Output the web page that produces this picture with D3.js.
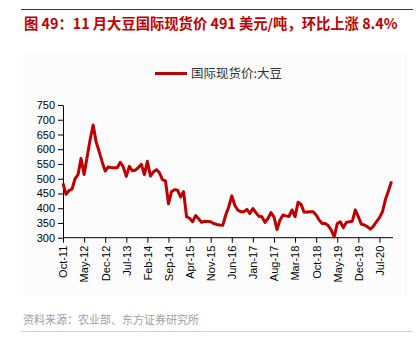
<!DOCTYPE html>
<html><head><meta charset="utf-8">
<script src="https://cdn.jsdelivr.net/npm/d3@7"></script>
<style>
html,body{margin:0;padding:0;background:#fff;}
svg{display:block;}
</style></head>
<body>
<svg id="c" width="418" height="350"></svg>
<script>
const titleText = "图 49：11 月大豆国际现货价 491 美元/吨，环比上涨 8.4%";
const seriesName = "国际现货价:大豆";
const sourceText = "资料来源：农业部、东方证券研究所";
const startMonth = new Date(2011, 9, 1);
const endMonth = new Date(2020, 10, 1);
const values = [484,447,460,465,500,514,569,514,574,632,
682,625,592,557,526,540,538,537,537,556,
540,508,542,527,529,538,549,514,559,509,
523,531,520,497,493,415,456,463,461,438,
456,371,366,354,375,364,352,356,355,354,
348,345,343,342,377,405,442,410,394,388,
388,396,382,399,385,373,371,352,365,385,
371,328,360,377,374,372,394,371,420,413,
386,387,388,388,377,360,348,348,341,326,
303,348,354,334,352,354,356,394,371,346,
343,337,329,339,354,368,388,430,459,491];
const tickLabels = ["Oct-11","May-12","Dec-12","Jul-13","Feb-14","Sep-14","Apr-15","Nov-15","Jun-16","Jan-17","Aug-17","Mar-18","Oct-18","May-19","Dec-19","Jul-20"];
const yTicks = [300,350,400,450,500,550,600,650,700,750];

const fmt = d3.timeFormat("%b-%y");
const months = d3.timeMonth.range(startMonth, d3.timeMonth.offset(endMonth,1)).map(fmt);
const data = months.map((m,i)=>({m, v: values[i]}));

const svg = d3.select("#c");
const red = "#c00000";

// top rule
svg.append("line").attr("x1",21).attr("x2",413).attr("y1",9.5).attr("y2",9.5)
  .attr("stroke",red).attr("stroke-width",1);
// title
svg.append("text").attr("x",24).attr("y",28.5).text(titleText)
  .attr("fill",red).attr("font-weight","bold")
  .attr("font-family","'Noto Sans CJK SC','Liberation Sans',sans-serif").attr("font-size",14.3);

// chart background
svg.append("rect").attr("x",23).attr("y",52).attr("width",384).attr("height",244).attr("fill","#fcfcfc");

const x = d3.scalePoint().domain(months).range([63, 391.5]);
const y = d3.scaleLinear().domain([300,750]).range([237.7,105]);

// legend
svg.append("line").attr("x1",155).attr("x2",187).attr("y1",73.5).attr("y2",73.5)
  .attr("stroke",red).attr("stroke-width",3);
svg.append("text").attr("x",191).attr("y",73.5).attr("dy","0.35em").text(seriesName)
  .attr("fill","#333").attr("font-family","'Noto Sans CJK SC',sans-serif").attr("font-size",12.5);

// y axis
const gy = svg.append("g").attr("transform","translate(63,0)")
  .call(d3.axisLeft(y).tickValues(yTicks).tickSize(5).tickSizeOuter(0).tickPadding(3));
gy.selectAll("text").attr("font-family","'Liberation Sans',Arial,sans-serif").attr("font-size",11).attr("fill","#000");
gy.selectAll("line,path").attr("stroke","#000");

// x axis
const gx = svg.append("g").attr("transform","translate(0,237.7)")
  .call(d3.axisBottom(x).tickValues(tickLabels).tickSize(5).tickSizeOuter(0));
gx.select(".domain").attr("d","M63,0H393");
gx.selectAll("line,path").attr("stroke","#000");
gx.selectAll("text").attr("font-family","'Liberation Sans',Arial,sans-serif").attr("font-size",11).attr("fill","#000")
  .attr("transform","rotate(-90)").attr("x",-8).attr("y",0).attr("dy","0.35em").attr("text-anchor","end");

// line
svg.append("path").datum(data)
  .attr("d", d3.line().x(d=>x(d.m)).y(d=>y(d.v)))
  .attr("fill","none").attr("stroke",red).attr("stroke-width",3).attr("stroke-linejoin","round");

// source
svg.append("text").attr("x",23).attr("y",320).attr("dy","0.35em").text(sourceText)
  .attr("fill","#a0a0a0").attr("font-family","'Noto Sans CJK SC',sans-serif").attr("font-size",11);
svg.append("line").attr("x1",21).attr("x2",413).attr("y1",331.5).attr("y2",331.5)
  .attr("stroke","#f2c4c4").attr("stroke-width",1);
</script>
</body></html>
